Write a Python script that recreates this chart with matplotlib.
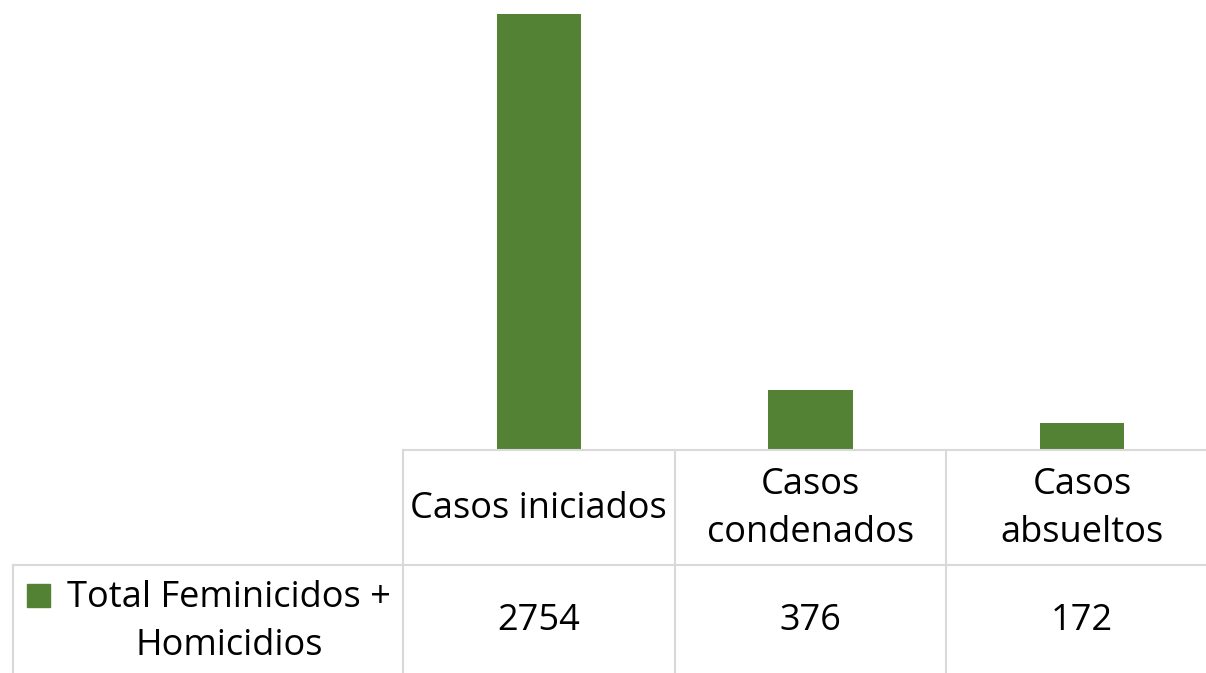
import matplotlib; matplotlib.use("Agg")
import matplotlib.pyplot as plt
from matplotlib.lines import Line2D
import matplotlib.transforms as mtransforms

categorias = ["Casos iniciados", "Casos\ncondenados", "Casos\nabsueltos"]
valores = [2754, 376, 172]
serie = "Total Feminicidos +\nHomicidios"

VERDE = "#548235"
GRIS = "#d9d9d9"
plt.rcParams["font.family"] = ["Open Sans", "DejaVu Sans"]
FS = 26

W, H = 1206, 673
fig = plt.figure(figsize=(W / 100, H / 100), dpi=100)
# eje del área de barras (en píxeles: x 403..1218, y 0..450)
x0, x1, yb = 403, 1218, 450
ax = fig.add_axes([x0 / W, (H - yb) / H, (x1 - x0) / W, yb / H])
x = list(range(len(valores)))
ax.bar(x, valores, width=0.31, color=VERDE)
ax.set_xlim(-0.5, len(valores) - 0.5)
ax.set_ylim(0, max(valores) * yb / 436)
ax.axis("off")

# tabla de datos debajo (coordenadas en píxeles de la figura)
px = mtransforms.Affine2D().scale(1 / W, -1 / H).translate(0, 1) + fig.transFigure
colw = (x1 - x0) / len(valores)
fila1, fila2 = 565, H
lineas = [((x0, x1), (yb, yb)), ((13, x1), (fila1, fila1)), ((13, 13), (fila1, fila2))]
for i in range(len(valores) + 1):
    lineas.append(((x0 + i * colw, x0 + i * colw), (yb, fila2)))
for xs, ys in lineas:
    fig.add_artist(Line2D(xs, ys, color=GRIS, lw=1.5, transform=px))

for i, (cat, val) in enumerate(zip(categorias, valores)):
    cx = x0 + (i + 0.5) * colw
    fig.text(cx, 509, cat, transform=px, ha="center", va="center",
             fontsize=FS, linespacing=1.43, multialignment="center")
    fig.text(cx, 621, f"{val}", transform=px, ha="center", va="center", fontsize=FS)

fig.add_artist(plt.Rectangle((27, 584), 23, 23, color=VERDE, transform=px))
fig.text(229, 622, serie, transform=px, ha="center", va="center",
         fontsize=FS, linespacing=1.43, multialignment="center")

fig.savefig("out.png", dpi=100)
